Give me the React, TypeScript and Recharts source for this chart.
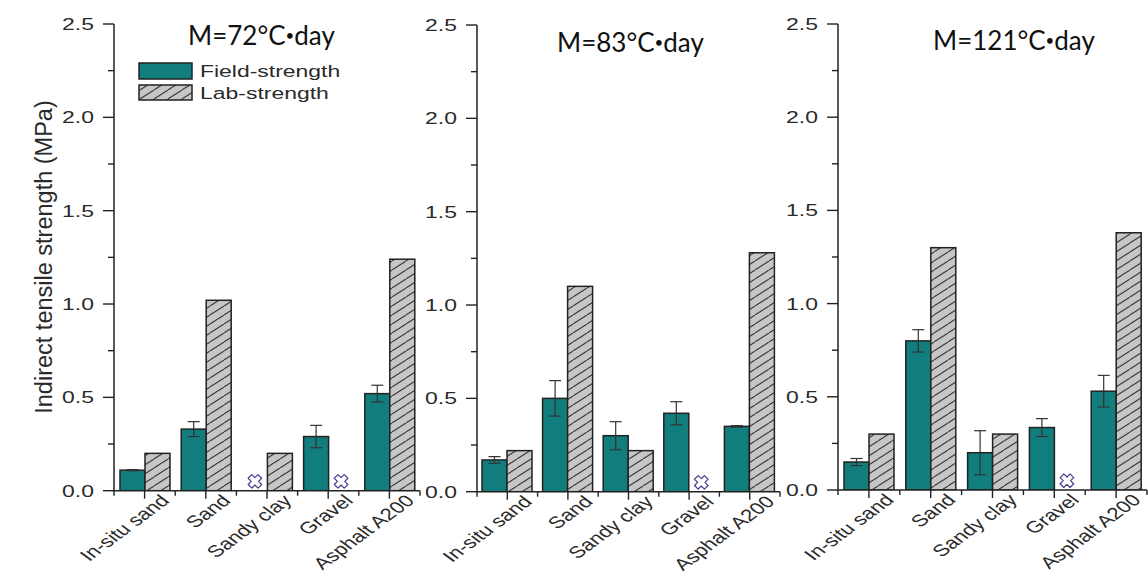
import React from 'react';
import { BarChart, Bar, XAxis, YAxis, ErrorBar } from 'recharts';

// ---------------- data ----------------
const CATEGORIES = ['In-situ sand', 'Sand', 'Sandy clay', 'Gravel', 'Asphalt A200'];
const PANEL_TITLES = [
  { pre: 'M=72°C', dot: '•', post: 'day' },
  { pre: 'M=83°C', dot: '•', post: 'day' },
  { pre: 'M=121°C', dot: '•', post: 'day' },
];
const SERIES_NAMES = ['Field-strength', 'Lab-strength'];
const Y_AXIS_TITLE = 'Indirect tensile strength (MPa)';

const FIELD_72 = [0.11, 0.33, null, 0.29, 0.52];
const FIELD_72_ERR = [0.003, 0.04, null, 0.06, 0.045];
const LAB_72 = [0.2, 1.02, 0.2, null, 1.24];

const FIELD_83 = [0.17, 0.5, 0.3, 0.42, 0.35];
const FIELD_83_ERR = [0.018, 0.095, 0.075, 0.062, 0.004];
const LAB_83 = [0.22, 1.1, 0.22, null, 1.28];

const FIELD_121 = [0.15, 0.8, 0.2, 0.335, 0.53];
const FIELD_121_ERR = [0.019, 0.06, 0.118, 0.048, 0.085];
const LAB_121 = [0.3, 1.3, 0.3, null, 1.38];

const MISSING_MARKER_LEVEL = 0.05;
const Y_MAJOR_TICKS = [0, 0.5, 1.0, 1.5, 2.0, 2.5];
const Y_MINOR_TICKS = [0.25, 0.75, 1.25, 1.75, 2.25];
const Y_DOMAIN = [0, 2.5];

// ---------------- styles ----------------
const TEAL = '#117d7c';
const LAB_BG = '#c6c6c6';
const INK = '#222222';
const TEXT = '#2a2a2a';
const FONT = '"Liberation Sans", Arial, sans-serif';
const STRETCH = 1.35;

const buildRows = (field: (number | null)[], err: (number | null)[], lab: (number | null)[]) =>
  CATEGORIES.map((cat, i) => ({
    cat,
    field: field[i] == null ? MISSING_MARKER_LEVEL : field[i],
    fieldMissing: field[i] == null,
    fieldErr: err[i],
    lab: lab[i] == null ? MISSING_MARKER_LEVEL : lab[i],
    labMissing: lab[i] == null,
  }));

const PANELS = [
  { rows: buildRows(FIELD_72, FIELD_72_ERR, LAB_72), title: PANEL_TITLES[0], axisX: 114, plotW: 306, top: 24, zeroY: 490.7, titleX: 188, titleY: 45 },
  { rows: buildRows(FIELD_83, FIELD_83_ERR, LAB_83), title: PANEL_TITLES[1], axisX: 477, plotW: 303, top: 25, zeroY: 491.7, titleX: 557, titleY: 52 },
  { rows: buildRows(FIELD_121, FIELD_121_ERR, LAB_121), title: PANEL_TITLES[2], axisX: 838, plotW: 309, top: 24, zeroY: 490, titleX: 933, titleY: 50 },
];

const YAXIS_W = 114;

const Cross = ({ cx, cy }: { cx: number; cy: number }) => {
  const a = 2.6;
  const L = 7;
  const pts = [
    [-a, -L], [a, -L], [a, -a], [L, -a], [L, a], [a, a], [a, L], [-a, L], [-a, a], [-L, a], [-L, -a], [-a, -a],
  ];
  const d = pts.map((p, i) => `${i === 0 ? 'M' : 'L'}${p[0]},${p[1]}`).join(' ') + ' Z';
  return (
    <path d={d} transform={`translate(${cx},${cy}) rotate(45)`} fill="#ffffff" stroke="#4a3d8f" strokeWidth={1.2} strokeLinejoin="round" />
  );
};

const makeShape = (missingKey: string, fill: string) => (props: any) => {
  const { x, y, width, height, payload } = props;
  if (payload && payload[missingKey]) {
    return <Cross cx={x + width / 2} cy={y} />;
  }
  return <rect x={x} y={y} width={width} height={height} fill={fill} stroke={INK} strokeWidth={1.5} />;
};

const YTick = (props: any) => {
  const { x, y, payload } = props;
  const major = Y_MAJOR_TICKS.includes(payload.value);
  return (
    <g>
      <line x1={x - (major ? 11 : 6)} x2={x} y1={y} y2={y} stroke={INK} strokeWidth={1.4} />
      {major && (
        <g transform={`translate(${x - 20},${y + 6}) scale(${STRETCH},1)`}>
          <text x={0} y={0} textAnchor="end" fontFamily={FONT} fontSize={17} fill={TEXT}>
            {payload.value.toFixed(1)}
          </text>
        </g>
      )}
    </g>
  );
};

const makeXTick = (band: number) => (props: any) => {
  const { x, y, payload, index } = props;
  return (
    <g>
      <line x1={x} x2={x} y1={y} y2={y + 8} stroke={INK} strokeWidth={1.4} />
      <line x1={x - band / 2} x2={x - band / 2} y1={y} y2={y + 5} stroke={INK} strokeWidth={1.4} />
      {index === CATEGORIES.length - 1 && (
        <line x1={x + band / 2} x2={x + band / 2} y1={y} y2={y + 5} stroke={INK} strokeWidth={1.4} />
      )}
      <g transform={`translate(${x + 26},${y + 11}) scale(${STRETCH},1) rotate(-45)`}>
        <text x={0} y={0} textAnchor="end" fontFamily={FONT} fontSize={16.5} fill={TEXT}>
          {payload.value}
        </text>
      </g>
    </g>
  );
};

const Panel = ({ p }: { p: (typeof PANELS)[number] }) => {
  const left = p.axisX - YAXIS_W;
  const width = YAXIS_W + p.plotW + 2;
  const xAxisH = 572 - p.zeroY;
  const band = p.plotW / CATEGORIES.length;
  return (
    <div style={{ position: 'absolute', left, top: 0 }}>
      <BarChart
        width={width}
        height={572}
        data={p.rows}
        margin={{ top: p.top, right: 2, left: 0, bottom: 0 }}
        barGap={0}
        barSize={25}
      >
        <XAxis
          dataKey="cat"
          height={xAxisH}
          interval={0}
          tickSize={0}
          tickMargin={0}
          tickLine={false}
          axisLine={{ stroke: INK, strokeWidth: 1.5 }}
          tick={makeXTick(band)}
        />
        <YAxis
          width={YAXIS_W}
          domain={Y_DOMAIN}
          ticks={[...Y_MAJOR_TICKS, ...Y_MINOR_TICKS].sort((a, b) => a - b)}
          allowDataOverflow
          tickSize={0}
          tickMargin={0}
          tickLine={false}
          axisLine={{ stroke: INK, strokeWidth: 1.5 }}
          tick={<YTick />}
        />
        <Bar dataKey="field" name={SERIES_NAMES[0]} fill={TEAL} isAnimationActive={false} shape={makeShape('fieldMissing', TEAL)}>
          <ErrorBar dataKey="fieldErr" width={6} stroke="#333333" strokeWidth={1.2} direction="y" />
        </Bar>
        <Bar dataKey="lab" name={SERIES_NAMES[1]} fill="url(#labHatch)" isAnimationActive={false} shape={makeShape('labMissing', 'url(#labHatch)')} />
      </BarChart>
    </div>
  );
};

export default function App() {
  return (
    <div style={{ position: 'absolute', left: 0, top: 0, width: 1148, height: 572, background: '#ffffff', overflow: 'hidden' }}>
      <svg width={0} height={0} style={{ position: 'absolute' }}>
        <defs>
          <pattern id="labHatch" patternUnits="userSpaceOnUse" width={14} height={9}>
            <rect x={0} y={0} width={14} height={9} fill={LAB_BG} />
            <path d="M-14,9 L0,0 M0,9 L14,0 M14,9 L28,0" stroke="#3a3a3a" strokeWidth={1.1} />
          </pattern>
        </defs>
      </svg>
      {PANELS.map((p, i) => (
        <Panel key={i} p={p} />
      ))}
      <svg width={1148} height={572} style={{ position: 'absolute', left: 0, top: 0, pointerEvents: 'none' }}>
        {PANELS.map((p, i) => (
          <text key={i} x={p.titleX} y={p.titleY} fontFamily="Lato, 'Open Sans', sans-serif" fontSize={26} fill="#111111">
            {p.title.pre}
            <tspan fontSize={15} dy={-4}>{p.title.dot}</tspan>
            <tspan dy={4}>{p.title.post}</tspan>
          </text>
        ))}
        <text
          transform="translate(52,257) rotate(-90)"
          textAnchor="middle"
          fontFamily={FONT}
          fontSize={23.5}
          fill={TEXT}
        >
          {Y_AXIS_TITLE}
        </text>
        <rect x={139} y={63} width={53} height={16} fill={TEAL} stroke={INK} strokeWidth={1.5} />
        <rect x={139} y={85} width={53} height={15} fill="url(#labHatch)" stroke={INK} strokeWidth={1.5} />
        <g transform={`translate(200,77) scale(${STRETCH},1)`}>
          <text x={0} y={0} fontFamily={FONT} fontSize={17} fill={TEXT}>{SERIES_NAMES[0]}</text>
        </g>
        <g transform={`translate(200,99) scale(${STRETCH},1)`}>
          <text x={0} y={0} fontFamily={FONT} fontSize={17} fill={TEXT}>{SERIES_NAMES[1]}</text>
        </g>
      </svg>
    </div>
  );
}
